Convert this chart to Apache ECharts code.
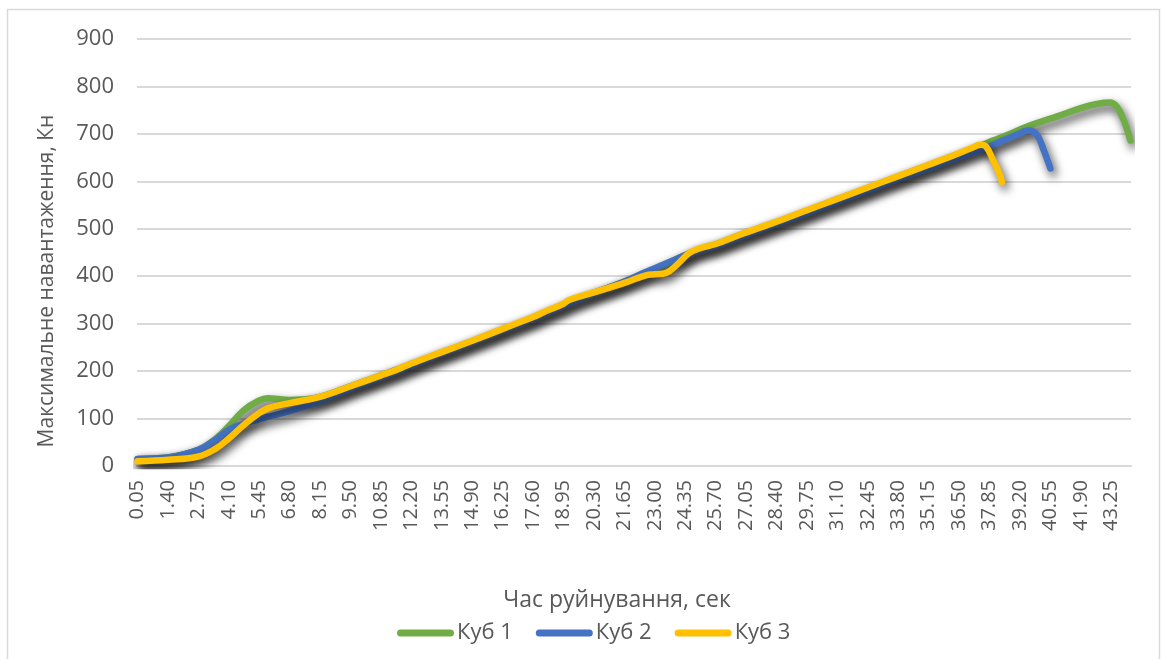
<!DOCTYPE html>
<html>
<head>
<meta charset="utf-8">
<script src="https://cdn.jsdelivr.net/npm/echarts@6/dist/echarts.min.js"></script>
<style>
  html, body { margin: 0; padding: 0; background: #ffffff; }
  #chart { width: 1163px; height: 659px; }
</style>
</head>
<body>
<div id="chart"></div>
<script>
// Time axis: readings every 0.05 s, starting at 0.05 s
const timeStart = 0.05;
const timeStep = 0.05;
const timeCount = 882;
const labelEvery = 27; // one label per 1.35 s

// Load axis ticks, kN
const loadMin = 0;
const loadMax = 900;
const loadStep = 100;

const seriesNames = ['Куб 1', 'Куб 2', 'Куб 3'];
const seriesColors = ['#70AD47', '#4472C4', '#FFC000'];

// [time, s ; load, kN]
const cube1 = [
  [0.05, 15], [1.40, 18], [2.75, 34], [3.50, 57], [4.10, 84], [4.75, 117],
  [5.40, 137], [5.85, 143], [6.30, 141], [6.75, 139], [7.30, 140], [8.10, 145],
  [9.50, 168], [10.85, 191], [12.20, 215], [13.55, 239], [14.90, 263], [16.25, 288],
  [17.60, 313], [18.95, 340], [20.30, 365], [21.65, 388], [22.60, 406], [23.60, 428],
  [24.40, 446], [25.00, 457], [25.70, 467], [26.75, 486], [28.40, 514], [29.75, 538],
  [31.10, 562], [32.45, 586], [33.80, 610], [35.15, 634], [36.10, 651], [37.45, 675],
  [38.00, 686], [38.60, 697], [39.55, 716], [40.85, 737], [42.00, 756], [42.60, 763],
  [43.20, 766], [43.50, 757], [43.80, 729], [44.10, 686]
];

const cube2 = [
  [0.05, 15], [1.40, 18], [2.75, 34], [3.50, 55], [4.10, 76], [4.75, 89],
  [5.40, 98], [5.85, 104], [6.75, 115], [8.10, 136], [8.80, 149], [9.50, 163],
  [10.85, 187], [12.20, 212], [13.55, 237], [14.90, 261], [16.25, 286], [17.60, 311],
  [18.95, 338], [20.30, 364], [21.65, 389], [22.60, 409], [23.60, 429], [24.40, 445],
  [25.00, 455], [25.70, 464], [26.75, 482], [28.40, 510], [29.75, 533], [31.10, 557],
  [32.45, 581], [33.80, 605], [35.15, 627], [36.10, 644], [37.45, 666], [38.60, 689],
  [39.20, 701], [39.55, 707], [39.95, 698], [40.25, 666], [40.55, 627]
];

const cube3 = [
  [0.05, 10], [1.40, 13], [2.75, 20], [3.50, 36], [4.10, 58], [4.75, 86],
  [5.40, 110], [5.85, 122], [6.75, 132], [8.10, 145], [9.50, 168], [10.85, 191],
  [11.50, 202], [12.20, 216], [13.55, 240], [14.90, 264], [16.25, 289], [17.00, 303],
  [17.60, 314], [18.20, 327], [18.95, 342], [19.20, 350], [20.30, 366], [21.65, 386],
  [22.60, 402], [23.00, 404], [23.50, 407], [24.00, 425], [24.50, 448], [25.00, 459],
  [25.70, 468], [26.75, 487], [28.40, 515], [29.75, 539], [31.10, 563], [32.45, 587],
  [33.80, 611], [35.15, 635], [36.10, 652], [37.00, 669], [37.45, 677], [37.70, 673],
  [38.00, 645], [38.25, 620], [38.40, 599]
];

const yTitle = 'Максимальне навантаження, Кн';
const xTitle = 'Час руйнування, сек';

const textColor = '#595959';
const gridColor = '#d9d9d9';
const fontFamily = '"Open Sans", "Noto Sans", sans-serif';

const categories = [];
for (let i = 0; i < timeCount; i++) {
  categories.push((timeStart + i * timeStep).toFixed(2));
}

function toCategoryPoints(rows) {
  return rows.map(([t, v]) => [Math.round((t - timeStart) / timeStep), v]);
}

const chart = echarts.init(document.getElementById('chart'), null, { renderer: 'canvas' });

const seriesList = [cube1, cube2, cube3].map((rows, i) => ({
  name: seriesNames[i],
  type: 'line',
  data: toCategoryPoints(rows),
  smooth: 0.4,
  symbol: 'none',
  showSymbol: false,
  color: seriesColors[i],
  lineStyle: {
    width: 6.5,
    color: seriesColors[i],
    cap: 'round',
    join: 'round',
    shadowColor: 'rgba(0,0,0,0.75)',
    shadowBlur: 10,
    shadowOffsetX: 3,
    shadowOffsetY: 5
  },
  emphasis: { disabled: true },
  z: 2 + i
}));

// pill-shaped legend marker
const legendIcon = 'path://M3.5,0 H53.5 A3.5,3.5 0 0 1 53.5,7 H3.5 A3.5,3.5 0 0 1 3.5,0 Z';

chart.setOption({
  animation: false,
  backgroundColor: '#ffffff',
  textStyle: { fontFamily: fontFamily },
  grid: {
    left: 137, right: 32, top: 39, bottom: 193,
    outerBoundsMode: 'none'
  },
  xAxis: {
    type: 'category',
    data: categories,
    boundaryGap: true,
    axisLine: { show: true, lineStyle: { color: gridColor, width: 2 } },
    axisTick: { show: false },
    axisLabel: {
      interval: labelEvery - 1,
      rotate: 90,
      margin: 14,
      fontSize: 20,
      color: textColor,
      fontFamily: fontFamily
    },
    splitLine: { show: false }
  },
  yAxis: {
    type: 'value',
    min: loadMin,
    max: loadMax,
    interval: loadStep,
    axisLine: { show: false },
    axisTick: { show: false },
    axisLabel: { fontSize: 22, color: textColor, margin: 23, fontFamily: fontFamily },
    splitLine: { lineStyle: { color: gridColor, width: 2 } }
  },
  legend: {
    data: seriesNames,
    left: 392,
    top: 617,
    itemWidth: 57,
    itemHeight: 7,
    itemGap: 23,
    icon: legendIcon,
    itemStyle: { opacity: 1, shadowBlur: 0 },
    textStyle: { fontSize: 22, color: textColor, fontFamily: fontFamily, padding: [0, 0, 0, -2] }
  },
  graphic: [
    {
      type: 'rect',
      shape: { x: 7.5, y: 9.5, width: 1152, height: 660 },
      style: { fill: 'none', stroke: gridColor, lineWidth: 1.5 },
      silent: true
    },
    {
      type: 'text',
      x: 47, y: 281,
      rotation: Math.PI / 2,
      style: {
        text: yTitle, fontSize: 21, fill: textColor, fontFamily: fontFamily,
        align: 'center', verticalAlign: 'middle'
      },
      silent: true
    },
    {
      type: 'text',
      x: 617, y: 600,
      style: {
        text: xTitle, fontSize: 23, fill: textColor, fontFamily: fontFamily,
        align: 'center', verticalAlign: 'middle'
      },
      silent: true
    }
  ],
  series: seriesList
});
</script>
</body>
</html>
